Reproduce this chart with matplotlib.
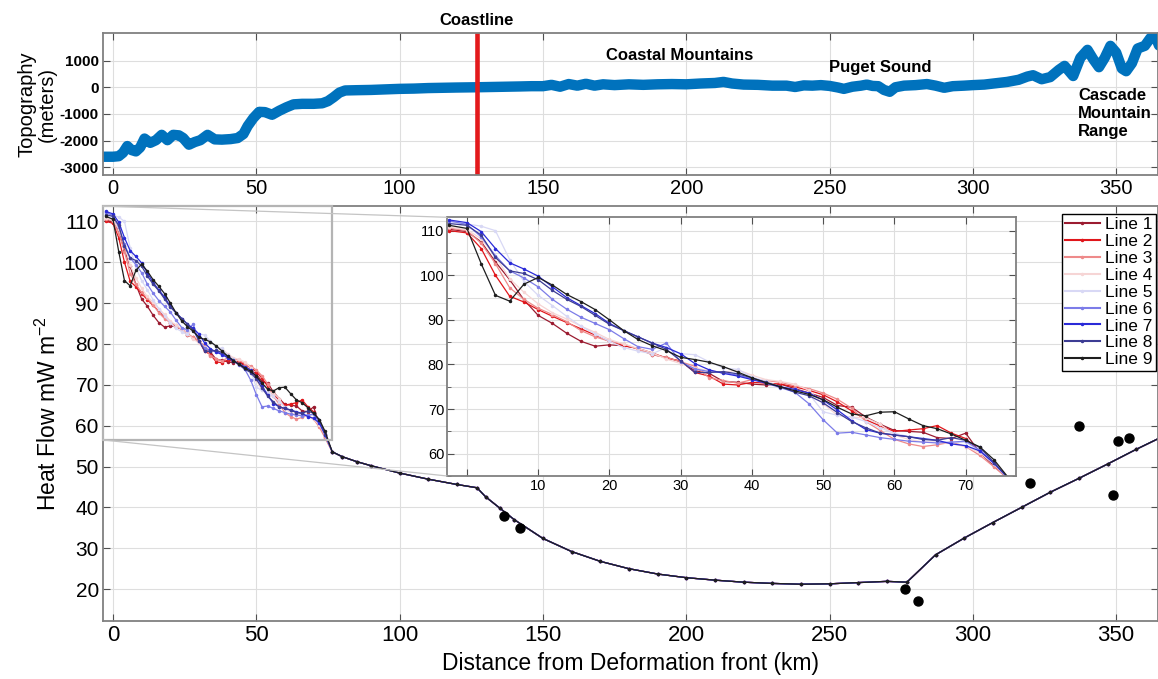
import matplotlib
matplotlib.use("Agg")
import matplotlib.pyplot as plt
from matplotlib.patches import Rectangle, ConnectionPatch

plt.rcParams['font.family'] = ['Liberation Sans', 'DejaVu Sans']
plt.rcParams['mathtext.default'] = 'regular'
plt.rcParams['axes.unicode_minus'] = False

# ---- topography profile (km, m) ----
x_topo = [-3.5, 0, 2, 3.5, 5, 6.5, 8, 9.5, 11, 13, 15, 17, 19, 21, 23, 24.5, 26.5, 28.5,
          30.5, 33, 35.5, 38, 41, 43.5, 45.5, 47, 49, 51, 53, 55.5, 58, 60.5, 63, 66, 70,
          73, 75, 77, 79, 81, 85, 90, 95, 100, 105, 110, 115, 120, 127, 132, 137, 142, 146,
          150, 153, 156, 159, 162, 165, 168, 171, 175, 180, 185, 190, 195, 200, 205, 210,
          213, 216, 220, 225, 230, 235, 238, 241, 244, 247, 250, 253, 255, 258, 261, 263,
          265, 267, 269, 271, 273, 276, 280, 284, 287, 290, 293, 297, 300, 304, 308, 312,
          316, 319, 321, 324, 327, 330, 332, 335, 337.5, 340, 342, 344, 346, 348, 350, 352,
          353.5, 355.5, 357.5, 360, 362, 363.5, 365]
topo = [-2600, -2600, -2580, -2450, -2200, -2350, -2400, -2250, -1920, -2080, -1980, -1780,
        -1980, -1780, -1800, -1900, -2150, -2050, -1980, -1780, -1950, -1960, -1940, -1900,
        -1750, -1450, -1150, -920, -930, -1030, -880, -750, -640, -620, -620, -600, -520,
        -370, -200, -120, -110, -100, -80, -60, -50, -30, -20, -10, 0, 10, 20, 30, 40, 40,
        90, 20, 120, 60, 130, 60, 110, 80, 110, 90, 110, 120, 110, 140, 160, 200, 140, 100,
        90, 60, 60, 10, 70, 60, 80, 50, -10, -60, 20, 60, 100, 50, 40, -100, -170, 0, 60,
        80, 120, 60, -20, 40, 60, 80, 100, 150, 200, 280, 400, 450, 300, 380, 650, 800, 420,
        1100, 1400, 1050, 750, 1100, 1550, 1300, 700, 600, 900, 1450, 1550, 1850, 1950, 1550]
coast_x = 127

# ---- heat flow, near-trench part (one array per line) ----
x_near = [-2.5, 0, 2, 4, 6, 8, 10, 12, 14, 16, 18, 20, 22, 24, 26, 28, 30, 32, 34, 36,
          38, 40, 42, 44, 46, 48, 50, 52, 54, 56, 58, 60, 62, 64, 66, 68, 70, 72, 74]
line1 = [110.3, 109.8, 107.5, 103.0, 99.0, 94.5, 91.0, 89.2, 87.0, 85.2, 84.1, 84.4, 84.2,
         83.6, 82.2, 81.6, 80.6, 78.6, 78.0, 76.2, 76.0, 75.6, 75.4, 75.6, 74.6, 73.6, 72.6,
         70.8, 70.4, 68.2, 66.6, 65.2, 65.0, 64.8, 63.6, 63.4, 64.6, 60.2, 57.2]
line2 = [110.0, 109.5, 106.0, 100.0, 95.3, 94.0, 92.3, 90.8, 89.4, 88.0, 86.6, 85.2, 84.2,
         83.6, 82.6, 81.4, 80.8, 78.2, 77.4, 75.6, 75.4, 76.0, 75.8, 75.6, 75.0, 74.2, 73.2,
         71.6, 69.6, 67.6, 66.2, 65.0, 65.3, 65.6, 66.3, 64.6, 63.4, 60.6, 57.6]
line3 = [110.6, 110.0, 107.2, 102.6, 97.2, 94.6, 92.6, 91.2, 89.6, 87.6, 86.2, 85.2, 84.6,
         83.4, 82.2, 81.6, 80.6, 79.6, 77.0, 76.4, 75.8, 76.6, 76.4, 76.0, 75.2, 74.6, 73.6,
         72.2, 70.2, 67.2, 65.2, 63.2, 62.2, 61.6, 62.0, 62.6, 61.6, 59.6, 57.0]
line4 = [110.8, 110.2, 108.2, 104.2, 99.2, 96.2, 93.6, 91.6, 90.2, 88.6, 87.2, 85.6, 84.6,
         83.6, 82.6, 81.2, 80.2, 79.2, 78.6, 78.2, 78.8, 77.6, 76.6, 76.2, 75.6, 74.2, 71.2,
         68.6, 68.2, 68.0, 66.6, 64.2, 63.2, 62.6, 62.6, 62.2, 61.6, 60.2, 57.6]
line5 = [112.0, 111.5, 111.0, 110.0, 103.5, 98.6, 95.5, 93.2, 90.8, 88.6, 86.8, 85.2, 83.8,
         83.0, 82.4, 83.8, 82.4, 82.2, 80.6, 79.2, 78.9, 77.2, 76.2, 75.0, 74.4, 73.4, 69.4,
         68.6, 68.2, 67.2, 65.8, 64.6, 63.8, 63.2, 62.8, 62.4, 62.6, 60.6, 57.6]
line6 = [112.2, 111.4, 108.6, 104.4, 101.0, 99.4, 97.4, 94.6, 92.4, 90.6, 89.2, 87.8, 85.8,
         84.0, 83.4, 84.8, 80.6, 79.0, 78.4, 78.2, 77.6, 76.8, 75.8, 74.8, 73.8, 71.2, 67.6,
         64.6, 64.8, 64.2, 63.6, 63.2, 62.8, 62.6, 62.4, 62.6, 62.8, 60.8, 57.8]
line7 = [112.4, 111.8, 109.8, 106.0, 102.8, 101.4, 99.8, 97.4, 95.0, 93.2, 91.4, 89.2, 87.6,
         86.2, 84.8, 83.8, 82.4, 80.2, 78.8, 78.0, 77.4, 76.6, 75.8, 75.0, 74.4, 73.6, 72.0,
         69.8, 67.4, 65.4, 64.6, 64.2, 63.8, 63.4, 63.0, 62.2, 61.8, 60.6, 57.8]
line8 = [111.6, 111.2, 109.0, 104.0, 101.0, 100.4, 99.0, 96.6, 94.6, 93.0, 91.0, 89.0, 87.6,
         86.2, 84.8, 83.4, 80.8, 78.2, 78.2, 78.4, 77.9, 77.0, 76.0, 75.0, 73.8, 73.0, 71.4,
         69.2, 67.2, 65.8, 64.6, 64.2, 63.8, 63.2, 63.0, 63.6, 63.0, 61.4, 58.0]
line9 = [111.2, 110.5, 102.6, 95.5, 94.2, 98.0, 99.5, 97.8, 95.7, 94.1, 92.3, 90.0, 87.6,
         85.6, 84.2, 83.1, 81.6, 81.1, 80.5, 79.5, 78.3, 77.0, 75.9, 75.0, 74.1, 73.3, 72.1,
         70.4, 68.9, 68.5, 69.3, 69.4, 67.8, 66.3, 65.6, 64.4, 63.0, 61.5, 58.6]

# shared landward part of the model curves
x_tail = [76.5, 80, 85, 90, 100, 110, 120, 127, 130, 135, 140, 150, 160, 170, 180, 190, 200,
          210, 220, 230, 240, 250, 260, 270, 277, 287, 297, 307, 317, 327, 337, 347, 357, 367]
hf_tail = [53.6, 52.4, 51.2, 50.2, 48.4, 46.9, 45.6, 44.8, 42.6, 39.8, 37.0, 32.4, 29.2, 26.8,
           25.0, 23.7, 22.8, 22.2, 21.7, 21.4, 21.2, 21.3, 21.6, 21.9, 21.7, 28.4, 32.5, 36.3,
           40.0, 43.7, 47.1, 50.6, 54.2, 57.6]

# measured heat flow
obs_x = [136.5, 142, 276.5, 281, 320, 337, 349, 350.5, 354.5]
obs_hf = [38, 35, 20, 17, 46, 60, 43, 56.3, 57]

lines = [line1, line2, line3, line4, line5, line6, line7, line8, line9]
names = ['Line %d' % (i + 1) for i in range(9)]
colors = ['#9B1B30', '#E0161B', '#EE8A8A', '#F6D5D5', '#D8D8F5',
          '#7C7CE8', '#2A2AD8', '#3C3C94', '#1E1E1E']


def matlab_style(a):
    a.grid(True, color='#dedede', lw=0.8)
    a.set_axisbelow(True)
    a.tick_params(direction='in', top=True, right=True, length=5, color='#505050', pad=3)
    for s in a.spines.values():
        s.set_color('#808080')
        s.set_linewidth(1.3)


fig = plt.figure(figsize=(11.58, 6.79), dpi=100)
ax_top = fig.add_axes([0.0889, 0.742, 0.9111, 0.209])
ax = fig.add_axes([0.0889, 0.0854, 0.9111, 0.611])
axin = fig.add_axes([0.386, 0.299, 0.491, 0.381])

# ---- top panel ----
matlab_style(ax_top)
ax_top.plot(x_topo, topo, color='#0072BD', lw=7.5, solid_capstyle='round', solid_joinstyle='round')
ax_top.axvline(coast_x, color='#E31A1C', lw=3.3)
ax_top.set_xlim(-3.5, 364.6)
ax_top.set_ylim(-3290, 2020)
ax_top.set_xticks(range(0, 351, 50))
ax_top.set_yticks([-3000, -2000, -1000, 0, 1000])
ax_top.tick_params(axis='x', labelsize=14.5)
ax_top.tick_params(axis='y', labelsize=11)
for t in ax_top.get_yticklabels():
    t.set_fontweight('bold')
ax_top.set_ylabel('Topography\n(meters)', fontsize=14.5, linespacing=1.1, labelpad=2)

ax_top.text(coast_x, 2500, 'Coastline', ha='center', va='center', fontsize=12,
            fontweight='bold', clip_on=False)
ax_top.text(197.8, 1200, 'Coastal Mountains', ha='center', va='center', fontsize=12,
            fontweight='bold')
ax_top.text(267.6, 750, 'Puget Sound', ha='center', va='center', fontsize=12,
            fontweight='bold')
ax_top.text(336.7, -990, 'Cascade\nMountain\nRange', ha='left', va='center', fontsize=12,
            fontweight='bold', linespacing=1.25)

# ---- main heat flow panel ----
matlab_style(ax)
for vals, c, n in zip(lines, colors, names):
    ax.plot(x_near + x_tail, vals + hf_tail, color=c, lw=0.9, marker='.', ms=3, label=n)
ax.scatter(obs_x, obs_hf, s=42, color='black', zorder=5)
ax.set_xlim(-3.5, 364.6)
ax.set_ylim(12.2, 113.7)
ax.set_xticks(range(0, 351, 50))
ax.set_yticks(range(20, 111, 10))
ax.tick_params(axis='x', labelsize=16)
ax.tick_params(axis='y', labelsize=15)
ax.set_xlabel('Distance from Deformation front (km)', fontsize=16.5, labelpad=4)
ax.set_ylabel('Heat Flow mW m$^{-2}$', fontsize=16.5, labelpad=2)

leg = ax.legend(loc='upper right', bbox_to_anchor=(0.998, 0.982), fontsize=12.5,
                fancybox=False, edgecolor='black', framealpha=1, borderpad=0.2,
                labelspacing=0.1, handlelength=2.0, handletextpad=0.3, borderaxespad=0)
leg.get_frame().set_linewidth(1.0)
for h in leg.get_lines():
    h.set_linewidth(1.5)

# zoom box and connectors
box_x0, box_x1, box_y0, box_y1 = -3.5, 76.4, 56.5, 113.7
ax.add_patch(Rectangle((box_x0, box_y0), box_x1 - box_x0, box_y1 - box_y0, fill=False,
                       ec='#b4b4b4', lw=1.6, zorder=4, clip_on=False))
for yb, yi in [(box_y1, 1), (box_y0, 0)]:
    con = ConnectionPatch(xyA=(box_x0, yb), coordsA=ax.transData, xyB=(0, yi),
                          coordsB=axin.transAxes, color='#c4c4c4', lw=0.9)
    fig.add_artist(con)

# ---- inset ----
matlab_style(axin)
axin.grid(True, which='minor', axis='y', color='#dedede', lw=0.8)
for vals, c in zip(lines, colors):
    axin.plot(x_near + x_tail, vals + hf_tail, color=c, lw=0.9, marker='.', ms=3)
axin.set_xlim(-2.8, 77)
axin.set_ylim(55, 113)
axin.set_xticks(range(0, 71, 10))
axin.set_xticklabels([''] + [str(v) for v in range(10, 71, 10)])
axin.set_yticks(range(60, 111, 10))
axin.set_yticks(range(55, 113, 5), minor=True)
axin.tick_params(which='minor', direction='in', right=True, length=3, color='#505050')
axin.tick_params(axis='both', labelsize=10.5, pad=2)

fig.savefig('out.png', dpi=100)
